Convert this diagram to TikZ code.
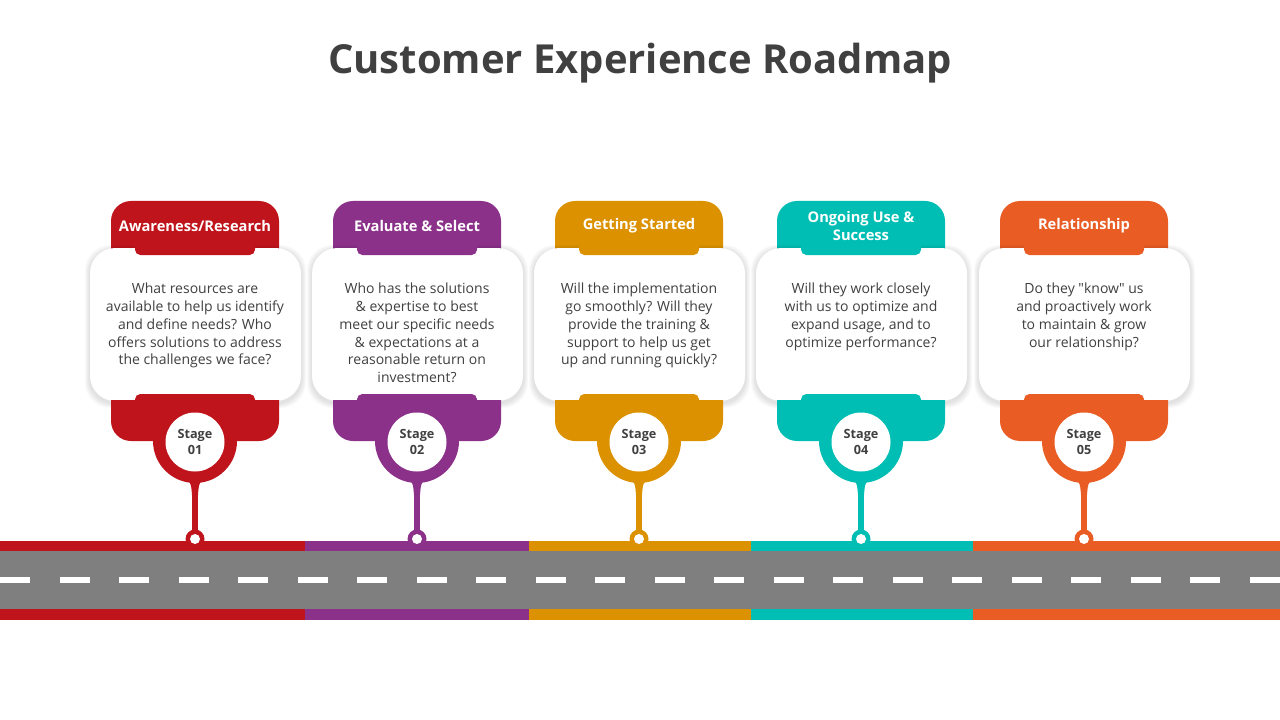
\documentclass[tikz,border=0pt]{standalone}
\usepackage{fontspec}
\setmainfont{Open Sans}
\usetikzlibrary{calc,positioning}
\definecolor{stred}{HTML}{C0141C}
\definecolor{stpurple}{HTML}{8B318A}
\definecolor{storange}{HTML}{DC9200}
\definecolor{stteal}{HTML}{00BEB3}
\definecolor{stcoral}{HTML}{E95C24}
\definecolor{roadgray}{HTML}{7F7F7F}
\definecolor{ink}{HTML}{404040}
\tikzset{
  titletext/.style={text=ink, font=\bfseries\fontsize{30}{36}\selectfont},
  headtext/.style={text=white, font=\bfseries\fontsize{11}{14}\selectfont, align=center},
  bodytext/.style={text=ink, font=\fontsize{10.5}{13.3}\selectfont, align=center, anchor=north, inner sep=0pt},
  stagetext/.style={circle, fill=white, minimum size=44.25pt, inner sep=0pt, text=ink,
    align=center, font=\bfseries\fontsize{9.5}{12}\selectfont}
}

\begin{document}
\begin{tikzpicture}[x=0.75pt,y=-0.75pt]
		\useasboundingbox (0,0) rectangle (1280,720);
		\node[titletext] (title) at (640,63) {Customer Experience Roadmap};
		% road
		\foreach \x/\w/\col in {0/305/stred,305/224/stpurple,529/222/storange,751/222/stteal,973/307/stcoral} {
			\fill[\col] (\x,541) rectangle ++(\w,79);
		};
		\fill[roadgray] (0,551) rectangle (1280,609);
		\foreach \k in {0,1,...,21} {
			\fill[white] ({\k*59.5},577) rectangle ++(30,6);
		};
		% stages
		\foreach \i/\cx/\col/\head/\body in {
			1/195/stred/{Awareness/Research}/{What resources are\\available to help us identify\\and define needs? Who\\offers solutions to address\\the challenges we face?},
			2/417/stpurple/{Evaluate \& Select}/{Who has the solutions\\\& expertise to best\\meet our specific needs\\\& expectations at a\\reasonable return on\\investment?},
			3/639/storange/{Getting Started}/{Will the implementation\\go smoothly? Will they\\provide the training \&\\support to help us get\\up and running quickly?},
			4/861/stteal/{Ongoing Use \&\\Success}/{Will they work closely\\with us to optimize and\\expand usage, and to\\optimize performance?},
			5/1084/stcoral/{Relationship}/{Do they \textquotedbl know\textquotedbl{} us\\and proactively work\\to maintain \& grow\\our relationship?}} {
			\fill[\col] (\cx-84,262) [rounded corners=15pt] -- (\cx-84,201) -- (\cx+84,201) [sharp corners] -- (\cx+84,262) -- cycle;
			\foreach \s in {1,...,5} {
				\fill[black,opacity=0.022,rounded corners=19pt] (\cx-105-\s,250-\s) rectangle (\cx+106+\s,403+\s);
			}
			\fill[white,rounded corners=19pt] (\cx-105,248) rectangle (\cx+106,401);
			\fill[\col,rounded corners=4pt] (\cx-60,236) rectangle (\cx+60,255);
			\node[headtext] (h\i) at (\cx,226) {\head};
			\node[bodytext] (b\i) at (\cx,283) {\body};
			\fill[\col,rounded corners=4pt] (\cx-60,394) rectangle (\cx+60,420);
			\fill[\col] (\cx+84,400) [rounded corners=15pt] -- (\cx+84,441) -- (\cx-84,441) [sharp corners] -- (\cx-84,400) -- cycle;
			\fill[\col] (\cx,441) circle (42);
			\fill[\col] (\cx-14,476) .. controls (\cx-4,482) .. (\cx-3,495) -- (\cx+3,495) .. controls (\cx+4,482) .. (\cx+14,476) -- cycle;
			\node[stagetext] (s\i) at (\cx,442) {Stage\\0\i};
			\coordinate (r\i) at (\cx,539);
			\draw[\col,line width=4.5pt] (s\i.south) -- (r\i);
			\fill[\col] (r\i) circle (9.5);
			\fill[white] (r\i) circle (5);
		}
\end{tikzpicture}
\end{document}
